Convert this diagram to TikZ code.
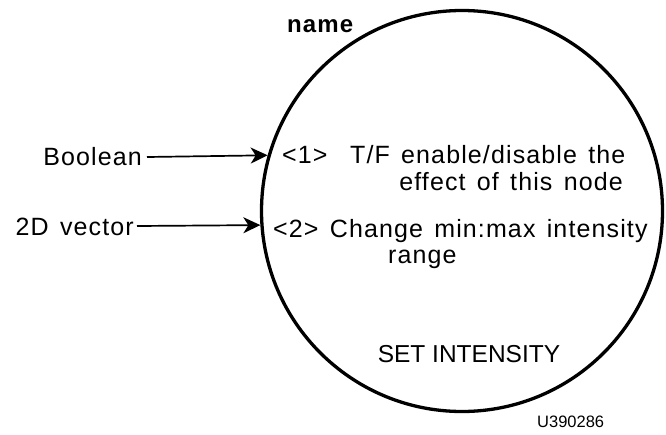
\documentclass[tikz,border=0pt]{standalone}
\usepackage{fontspec}
\setmainfont{Liberation Sans}[LetterSpace=4.5,WordSpace=1.4]
\newfontfamily\capsfont{Liberation Sans}
\usetikzlibrary{arrows.meta}

\tikzset{
  lbl/.style={inner sep=0pt,font=\fontsize{25}{29}\selectfont},
  inarrow/.style={line width=1.7pt,-{Stealth[length=17pt,width=16pt,inset=5pt]}},
}

\begin{document}
\begin{tikzpicture}[x=1pt,y=-1pt]
    \useasboundingbox (0,0) rectangle (666,434);
    % node body
    \node[circle,draw,line width=3.3pt,minimum size=401pt,inner sep=0pt] (setint) at (462,211) {};
    \node[lbl,anchor=base west,font=\fontsize{24}{28}\selectfont\bfseries] (name) at (287,32) {name};

    % inputs
    \node[lbl,anchor=base east] (bool) at (142,165) {Boolean};
    \node[lbl,anchor=base east] (vec) at (134,235) {2D vector};
    \draw[inarrow] ([xshift=5pt]bool.east |- 0,157) -- (setint.164.5);
    \draw[inarrow] ([xshift=3pt]vec.east |- 0,226) -- (setint.184.3);

    % input descriptions
    \node[lbl,anchor=base west] (in1) at (282,163) {<1>\ \ T/F enable/disable the};
    \node[lbl,anchor=base east] (in1b) at (623,190) {effect of this node};
    \node[lbl,anchor=base west] (in2) at (273,237) {<2> Change min:max intensity};
    \node[lbl,anchor=base west] (in2b) at (388,263) {range};

    \node[lbl,anchor=base,font=\capsfont\fontsize{24.5}{28}\selectfont] (title) at (469,362) {SET INTENSITY};
    \node[lbl,anchor=base west,font=\capsfont\fontsize{16.5}{18}\selectfont] (fig) at (537,427) {U390286};
\end{tikzpicture}
\end{document}
